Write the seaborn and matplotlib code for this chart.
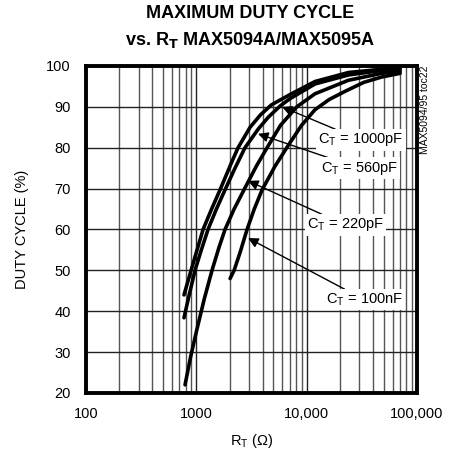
import matplotlib
matplotlib.use("Agg")
import matplotlib.pyplot as plt
import pandas as pd
import seaborn as sns

# curves (R_T in ohms, duty cycle in %)
r_1000 = [773, 896, 1015, 1151, 1375, 1640, 2094, 2388, 3070, 3800, 4800,
          7060, 11900, 23900, 47900, 70300]
d_1000 = [44, 50, 55, 60, 65, 69.7, 76.5, 80, 85, 88, 90.5,
          93, 96.2, 98.4, 99.2, 99.5]
r_560 = [773, 867, 973, 1110, 1276, 1520, 1820, 2240, 2760, 3622, 4500,
         5800, 7060, 11900, 23900, 47900, 70300]
d_560 = [38.4, 44.3, 50, 55, 60, 65, 69.7, 75, 80, 84.5, 87.5,
         90.3, 92, 95.6, 97.8, 98.9, 99.2]
r_220 = [790, 890, 1009, 1180, 1387, 1600, 1820, 2200, 2704, 3500, 4375,
         5800, 8130, 11900, 23900, 47900, 70300]
d_220 = [22, 29, 35.4, 43, 50, 55.5, 60, 65, 69.7, 75.5, 80,
         85.5, 90, 93.2, 96.5, 98.2, 98.7]
r_100 = [2023, 2200, 2500, 2882, 3350, 3945, 5170, 6780, 9000, 11900,
         16000, 22300, 33000, 47900, 70300]
d_100 = [48, 50, 54.5, 60, 65, 69.7, 75.5, 80.5, 85.5, 89.3,
         91.8, 93.8, 96, 97.3, 98.2]

labels = ["C$_\\mathregular{T}$ = 1000pF", "C$_\\mathregular{T}$ = 560pF",
          "C$_\\mathregular{T}$ = 220pF", "C$_\\mathregular{T}$ = 100nF"]
# arrow tips (on curve) and label centres
tip_r = [5985, 3622, 2944, 2944]
tip_d = [90.0, 83.4, 71.9, 57.9]
lab_r = [31000, 30000, 22500, 33500]
lab_d = [81.9, 75.0, 61.1, 42.8]

xticks = [100, 1000, 10000, 100000]
xticklabels = ["100", "1000", "10,000", "100,000"]
yticks = list(range(20, 101, 10))

df = pd.concat([
    pd.DataFrame({"r": r_1000, "d": d_1000, "ct": "1000pF"}),
    pd.DataFrame({"r": r_560, "d": d_560, "ct": "560pF"}),
    pd.DataFrame({"r": r_220, "d": d_220, "ct": "220pF"}),
    pd.DataFrame({"r": r_100, "d": d_100, "ct": "100nF"}),
])

sns.set_style("white")
plt.rcParams['font.family'] = ['Liberation Sans', 'DejaVu Sans']
plt.rcParams['mathtext.fontset'] = 'custom'
plt.rcParams['mathtext.rm'] = 'Liberation Sans'
for k in ["text.color", "axes.labelcolor", "xtick.color", "ytick.color"]:
    plt.rcParams[k] = "black"

fig = plt.figure(figsize=(4.51, 4.55), dpi=100)
ax = fig.add_axes([0.1907, 0.1363, 0.7339, 0.7187])

ax.set_xscale("log")
ax.set_xlim(100, 100000)
ax.set_ylim(20, 100)

sns.lineplot(data=df, x="r", y="d", hue="ct", palette=["black"] * 4,
             linewidth=2.6, legend=False, sort=False, ax=ax,
             estimator=None)

ax.grid(True, which="major", color="#222222", linewidth=1.0)
ax.grid(True, which="minor", axis="x", color="#555555", linewidth=1.0)
ax.set_axisbelow(True)
for s in ax.spines.values():
    s.set_linewidth(2.8)
    s.set_color("black")

ax.set_xticks(xticks)
ax.set_xticklabels(xticklabels)
ax.set_yticks(yticks)
ax.tick_params(axis="both", which="both", length=0, labelsize=10.5)
ax.tick_params(axis="y", pad=11)
ax.tick_params(axis="x", pad=10)

for i in range(4):
    ax.annotate(labels[i], xy=(tip_r[i], tip_d[i]), xytext=(lab_r[i], lab_d[i]),
                ha="center", va="center", fontsize=10.5,
                bbox=dict(boxstyle="square,pad=0.15", fc="white", ec="none"),
                arrowprops=dict(arrowstyle="-|>", color="black", lw=1.0,
                                mutation_scale=15, shrinkA=0, shrinkB=0))

ax.set_xlabel("R$_\\mathregular{T}$ ($\\Omega$)", fontsize=10.5, labelpad=8)
ax.set_ylabel("DUTY CYCLE (%)", fontsize=10.5, labelpad=12)

fig.text(0.554, 0.971, "MAXIMUM DUTY CYCLE", ha="center", va="center",
         fontsize=13, fontweight="bold")
fig.text(0.554, 0.912, "vs. R$_\\mathbf{T}$ MAX5094A/MAX5095A", ha="center",
         va="center", fontsize=13, fontweight="bold")
fig.text(0.942, 0.855, "MAX5094/95 toc22", rotation=90, ha="center", va="top",
         fontsize=7.5)

fig.savefig("out.png", dpi=100)
